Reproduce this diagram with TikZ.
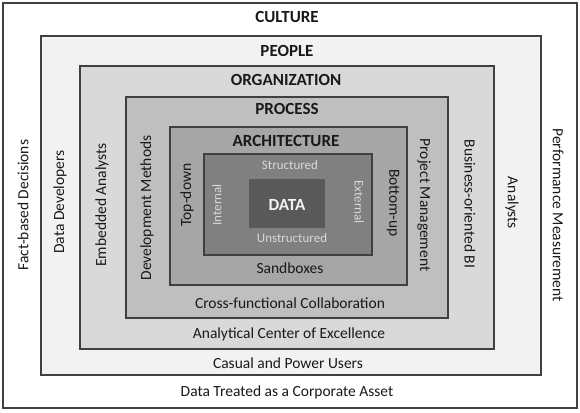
\documentclass[tikz,border=0pt]{standalone}
\usepackage{fontspec}
\setmainfont{Carlito}
\usepackage{xcolor}
\usepackage{tikz}

\definecolor{edgegray}{HTML}{404040}
\definecolor{peoplefill}{HTML}{F2F2F2}
\definecolor{orgfill}{HTML}{D9D9D9}
\definecolor{processfill}{HTML}{BFBFBF}
\definecolor{archfill}{HTML}{A6A6A6}
\definecolor{innerfill}{HTML}{808080}
\definecolor{datafill}{HTML}{595959}

\begin{document}
\begin{tikzpicture}[x=1pt, y=-1pt,
        layer/.style={draw=edgegray, line width=1.4pt, rectangle, inner sep=0pt},
        heading/.style={font=\fontsize{17}{20}\selectfont\bfseries, text=black!90},
        caption/.style={font=\fontsize{15.5}{18}\selectfont, text=black!90},
        corelabel/.style={font=\fontsize{13}{15}\selectfont, text=white!85!black}]
        \useasboundingbox (0,0) rectangle (580,412);

        % Nested layers
        \node[layer, fill=white, minimum width=574pt, minimum height=405pt] (culturebox) at (290,205.5) {};
        \node[layer, fill=peoplefill, minimum width=500pt, minimum height=339pt] (peoplebox) at (291,205.5) {};
        \node[layer, fill=orgfill, minimum width=414pt, minimum height=283pt] (orgbox) at (287,207.5) {};
        \node[layer, fill=processfill, minimum width=322pt, minimum height=221pt] (processbox) at (287,207.5) {};
        \node[layer, fill=archfill, minimum width=237pt, minimum height=158pt] (archbox) at (288.5,206) {};
        \node[layer, fill=innerfill, minimum width=168pt, minimum height=101pt] (innerbox) at (288,204.5) {};
        \node[rectangle, fill=datafill, minimum width=76pt, minimum height=49pt] (databox) at (287,203.5) {};

        % Headings
        \node[heading] (culture) at (287,17) {CULTURE};
        \node[heading] (people) at (287,51) {PEOPLE};
        \node[heading] (org) at (286,80) {ORGANIZATION};
        \node[heading] (process) at (287,109) {PROCESS};
        \node[heading] (arch) at (286,141) {ARCHITECTURE};
        \node[heading, text=white!95!black] (data) at (287,205) {DATA};

        % Core labels
        \node[corelabel] (structured) at (290,165) {Structured};
        \node[corelabel] (unstructured) at (292,238) {Unstructured};
        \node[corelabel, rotate=90] (internal) at (217,205) {Internal};
        \node[corelabel, rotate=-90] (external) at (359,202) {External};

        % Bottom labels
        \node[caption] (sandboxes) at (290,268) {Sandboxes};
        \node[caption] (crossfunc) at (290,303) {Cross-functional Collaboration};
        \node[caption] (excellence) at (289,334) {Analytical Center of Excellence};
        \node[caption] (users) at (288,363) {Casual and Power Users};
        \node[caption] (asset) at (287,392) {Data Treated as a Corporate Asset};

        % Left labels
        \node[caption, rotate=90] (decisions) at (23,205) {Fact-based Decisions};
        \node[caption, rotate=90] (developers) at (60,202) {Data Developers};
        \node[caption, rotate=90] (embedded) at (102,205) {Embedded Analysts};
        \node[caption, rotate=90] (methods) at (147,208) {Development Methods};
        \node[caption, rotate=90] (topdown) at (187,195) {Top-down};

        % Right labels
        \node[caption, rotate=-90] (bottomup) at (393,203) {Bottom-up};
        \node[caption, rotate=-90] (projmgmt) at (424,205) {Project Management};
        \node[caption, rotate=-90] (bizbi) at (470,204) {Business-oriented BI};
        \node[caption, rotate=-90] (analysts) at (512,203) {Analysts};
        \node[caption, rotate=-90] (measure) at (558,215) {Performance Measurement};
\end{tikzpicture}
\end{document}
